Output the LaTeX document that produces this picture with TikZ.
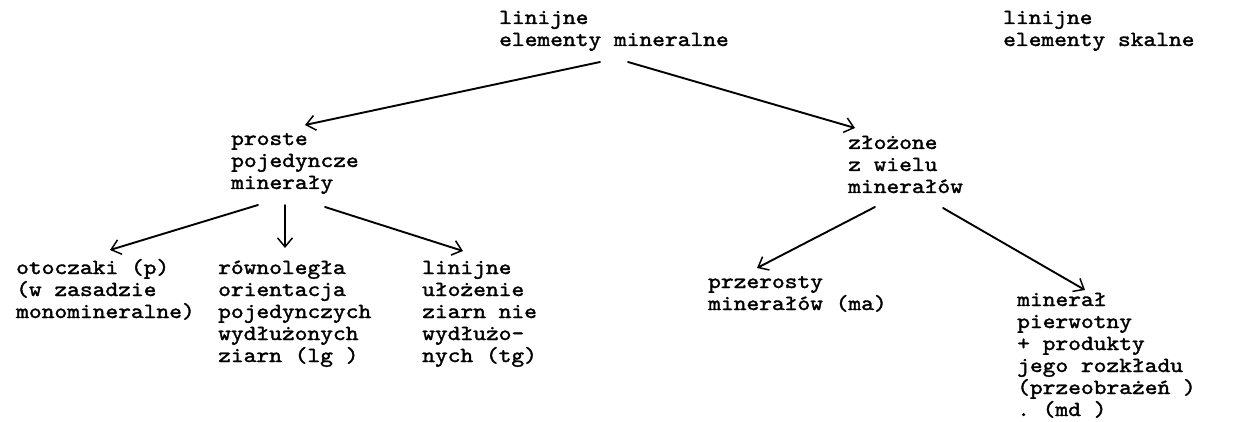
\documentclass[tikz,border=0pt]{standalone}
\usepackage{fontspec}
\newfontfamily\typewr{lmmono10-regular.otf}[FakeBold=1.6,FakeStretch=1.13]
\usetikzlibrary{arrows.meta,calc}
% left-aligned block of lines whose baseline is the first line's baseline
\newcommand\rows[1]{\vtop{\lineskiplimit=-\maxdimen\halign{##\hfil\cr#1\crcr}}}
\begin{document}
\begin{tikzpicture}[x=1pt,y=-1pt,
  txt/.style={anchor=base west,inner sep=0pt,
    font=\typewr\fontsize{21.5}{22}\selectfont},
  link/.style={line width=1.9pt,line cap=round,
    -{Straight Barb[length=9pt,width=15pt,line width=1.5pt]}}]
\useasboundingbox (0,0) rectangle (1246,422);

% headings
\node[txt] (top)  at (499,24)  {\rows{linijne\cr elementy mineralne}};
\node[txt] (rock) at (1003,24) {\rows{linijne\cr elementy skalne}};

% second level
\node[txt] (simple)  at (231,145) {\rows{proste\cr pojedyncze\cr minerały}};
\node[txt] (complex) at (848,149) {\rows{złożone\cr z wielu\cr minerałów}};

% leaves
\node[txt] (rounded)  at (16,274)  {\rows{otoczaki (p)\cr(w zasadzie\cr monomineralne)}};
\node[txt] (parallel) at (218,274) {\rows{równoległa\cr orientacja\cr pojedynczych\cr wydłużonych\cr ziarn (lg )}};
\node[txt] (linear)   at (422,274) {\rows{linijne\cr ułożenie\cr ziarn nie\cr wydłużo-\cr nych (tg)}};
\node[txt] (intergrowth) at (708,288) {\rows{przerosty\cr minerałów (ma)}};
\node[txt] (primary)  at (1017,306) {\rows{minerał\cr pierwotny\cr + produkty\cr jego rozkładu\cr(przeobrażeń )\cr .~(md )}};

% connectors
\draw[link] ($(top.base west)+(101,38)$) -- ($(simple.base west)+(74,-20)$);
\draw[link] ($(top.base west)+(129,38)$) -- ($(complex.base west)+(7,-21)$);
\draw[link] ($(simple.base west)+(27,60)$) -- ($(rounded.base west)+(94,-24)$);
\draw[link] ($(simple.base west)+(54,60)$) -- ($(parallel.base west)+(67,-26)$);
\draw[link] ($(simple.base west)+(94,62)$) -- ($(linear.base west)+(41,-23)$);
\draw[link] ($(complex.base west)+(27,58)$) -- ($(intergrowth.base west)+(49,-20)$);
\draw[link] ($(complex.base west)+(95,59)$) -- ($(primary.base west)+(68,-16)$);
\end{tikzpicture}
\end{document}
